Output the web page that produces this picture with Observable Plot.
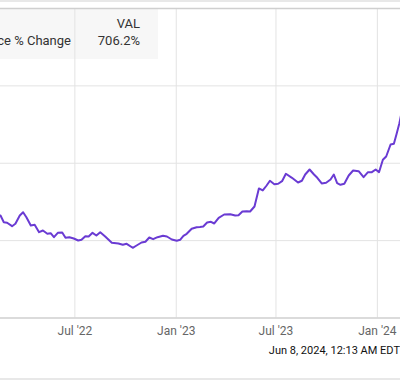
<!DOCTYPE html>
<html>
<head>
<meta charset="utf-8">
<script src="https://cdn.jsdelivr.net/npm/d3@7"></script>
<script src="https://cdn.jsdelivr.net/npm/@observablehq/plot@0.6"></script>
<style>
  body { margin: 0; background: #fff; font-family: Roboto, "Noto Sans", sans-serif; }
  #wrap { position: relative; width: 400px; height: 380px; overflow: hidden; background: #fff; }
  .abs { position: absolute; }
</style>
</head>
<body>
<div id="wrap">
  <div class="abs" style="left:0;top:0;width:400px;height:2px;background:#e8e8e8;"></div>
  <div class="abs" style="left:0;top:9px;width:158px;height:50px;background:#f7f7f7;z-index:0;"></div>
  <div id="chart" class="abs" style="left:0;top:0;z-index:1;"></div>
  <div id="legName" class="abs" style="right:329px;top:33px;font-size:13px;color:#333;white-space:nowrap;line-height:16px;z-index:2;"></div>
  <div id="legHead" class="abs" style="right:260px;top:16px;font-size:13px;color:#333;white-space:nowrap;line-height:16px;z-index:2;"></div>
  <div id="legVal" class="abs" style="right:260px;top:33px;font-size:13px;color:#333;white-space:nowrap;line-height:16px;z-index:2;"></div>
  <div id="stamp" class="abs" style="right:0;top:344px;font-size:11px;color:#111;white-space:nowrap;line-height:14px;z-index:2;"></div>
  <div class="abs" style="left:0;top:378px;width:400px;height:2px;background:#e8e8e8;"></div>
</div>
<script>
// ---- data ----
const dates = [
  "2022-02-16","2022-02-22","2022-02-28","2022-03-09","2022-03-15","2022-03-23","2022-03-29",
  "2022-04-04","2022-04-12","2022-04-19","2022-04-27","2022-05-04","2022-05-12","2022-05-18",
  "2022-05-24","2022-05-31","2022-06-08","2022-06-14","2022-06-21","2022-06-29","2022-07-07",
  "2022-07-13","2022-07-20","2022-07-26","2022-08-02","2022-08-09","2022-08-16","2022-08-25",
  "2022-09-06","2022-09-18","2022-09-26","2022-10-03","2022-10-14","2022-10-21","2022-10-30",
  "2022-11-06","2022-11-13","2022-11-20","2022-11-28","2022-12-08","2022-12-15","2022-12-24",
  "2023-01-02","2023-01-08","2023-01-14","2023-01-20","2023-01-29","2023-02-07","2023-02-13",
  "2023-02-19","2023-02-26","2023-03-05","2023-03-11","2023-03-19","2023-03-29","2023-04-09",
  "2023-04-18","2023-04-24","2023-05-01","2023-05-09","2023-05-15","2023-05-23","2023-05-31",
  "2023-06-07","2023-06-14","2023-06-20","2023-06-28","2023-07-05","2023-07-12","2023-07-19",
  "2023-07-30","2023-08-10","2023-08-17","2023-08-23","2023-08-31","2023-09-08","2023-09-14",
  "2023-09-22","2023-09-30","2023-10-08","2023-10-14","2023-10-20","2023-10-26","2023-11-02",
  "2023-11-10","2023-11-18","2023-11-28","2023-12-07","2023-12-15","2023-12-22","2023-12-29",
  "2024-01-04","2024-01-11","2024-01-17","2024-01-25","2024-01-31","2024-02-05","2024-02-10",
  "2024-02-14"
];
const changePct = [
  265.0,247.6,246.1,237.3,243.5,265.0,273.5,
  260.6,239.1,240.9,221.8,226.2,217.7,219.2,
  208.9,220.2,221.0,207.3,208.9,205.5,200.3,
  202.1,211.5,210.7,220.2,213.3,221.8,210.7,
  194.4,192.6,189.2,191.8,181.5,187.4,195.2,
  197.0,208.1,203.7,208.9,212.5,210.7,202.9,
  199.6,202.1,212.5,217.7,230.6,234.7,235.2,
  236.5,246.9,248.7,244.3,259.0,267.5,268.3,
  265.0,265.7,275.3,276.1,275.3,288.2,334.8,
  329.6,342.5,354.7,345.9,346.9,353.6,372.8,
  362.4,350.3,354.7,370.9,383.9,370.9,362.4,
  347.7,349.5,358.0,370.9,348.5,344.3,346.9,
  368.4,381.3,379.5,364.0,376.9,376.9,383.9,
  376.9,408.9,417.5,448.5,450.3,476.2,503.6,
  531.2
];
const xTicks = ["2022-07-01","2023-01-01","2023-07-01","2024-01-01"];
const xTickLabels = ["Jul '22","Jan '23","Jul '23","Jan '24"];
const yTicks = [0, 200, 400, 600, 800];
const xDomain = ["2022-02-16","2024-02-12"];
const seriesName = "Price % Change";
const legendHeader = "VAL";
const legendValue = "706.2%";
const timestamp = "Jun 8, 2024, 12:13 AM EDT";

// ---- build ----
const data = dates.map((d, i) => ({date: new Date(d + "T00:00:00Z"), value: changePct[i]}));
const tickDates = xTicks.map(d => new Date(d + "T00:00:00Z"));
const labelOf = new Map(tickDates.map((d, i) => [+d, xTickLabels[i]]));

const chart = Plot.plot({
  width: 400,
  height: 380,
  marginTop: 8,
  marginBottom: 62.5,
  marginLeft: 0,
  marginRight: 0,
  style: {background: "transparent", fontFamily: "Roboto, sans-serif"},
  x: {type: "utc", domain: xDomain.map(d => new Date(d + "T00:00:00Z"))},
  y: {domain: [yTicks[0], yTicks[yTicks.length - 1]]},
  marks: [
    Plot.gridX(tickDates, {stroke: "#e3e3e3", strokeOpacity: 1, strokeWidth: 1}),
    Plot.gridY(yTicks.slice(1, -1), {stroke: "#e3e3e3", strokeOpacity: 1, strokeWidth: 1}),
    Plot.ruleY([yTicks[0]], {stroke: "#cfcfcf", strokeWidth: 1.5}),
    Plot.ruleY([yTicks[yTicks.length - 1]], {stroke: "#cfcfcf", strokeWidth: 1.5}),
    Plot.axisX(tickDates, {
      tickSize: 0, tickPadding: 8, fontSize: 12, fill: "#666",
      tickFormat: d => labelOf.get(+d)
    }),
    Plot.axisY({ticks: [], tickSize: 0, label: null}),
    Plot.line(data, {x: "date", y: "value", stroke: "#6a3bd3", strokeWidth: 2, clip: true})
  ]
});
document.getElementById("chart").appendChild(chart);
document.getElementById("legName").textContent = seriesName;
document.getElementById("legHead").textContent = legendHeader;
document.getElementById("legVal").textContent = legendValue;
document.getElementById("stamp").textContent = timestamp;
</script>
</body>
</html>
